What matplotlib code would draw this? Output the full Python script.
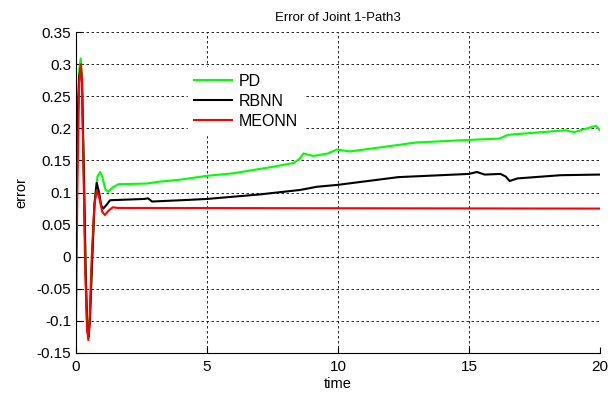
import numpy as np
import matplotlib
matplotlib.use("Agg")
import matplotlib.pyplot as plt

plt.rcParams['font.family'] = ['Liberation Sans', 'DejaVu Sans']

# readings (time, error)
t_pd = [0, 0.05, 0.12, 0.18, 0.23, 0.30, 0.37, 0.43, 0.48, 0.53, 0.62, 0.72, 0.82, 0.92,
        1.0, 1.12, 1.23, 1.4, 1.62, 2.7, 3.2, 3.97, 5.0, 6.0, 7.5, 8.3, 8.55, 8.68,
        9.06, 9.63, 9.95, 10.46, 13.0, 15.0, 16.15, 16.5, 18.7, 19.0, 19.85, 20.0]
e_pd = [0.08, 0.20, 0.29, 0.309, 0.28, 0.12, -0.02, -0.10, -0.115, -0.09, 0.0, 0.09, 0.125, 0.132,
        0.125, 0.105, 0.101, 0.108, 0.113, 0.114, 0.117, 0.12, 0.126, 0.13, 0.14, 0.146, 0.153, 0.161,
        0.157, 0.161, 0.167, 0.164, 0.178, 0.182, 0.184, 0.19, 0.197, 0.194, 0.204, 0.197]

t_rbnn = [0, 0.05, 0.12, 0.18, 0.23, 0.30, 0.37, 0.43, 0.48, 0.53, 0.62, 0.70, 0.79, 0.88,
          0.96, 1.04, 1.15, 1.3, 2.6, 2.75, 2.9, 4.0, 5.0, 7.0, 8.55, 9.2, 10.0, 12.3, 15.0,
          15.3, 15.6, 16.2, 16.4, 16.55, 16.85, 18.5, 20.0]
e_rbnn = [0.08, 0.20, 0.28, 0.295, 0.27, 0.13, -0.03, -0.115, -0.125, -0.10, 0.0, 0.08, 0.115, 0.10,
          0.08, 0.075, 0.08, 0.088, 0.09, 0.091, 0.086, 0.088, 0.09, 0.097, 0.104, 0.109, 0.112, 0.124, 0.129,
          0.132, 0.128, 0.129, 0.125, 0.118, 0.122, 0.127, 0.128]

t_meonn = [0, 0.05, 0.12, 0.18, 0.22, 0.28, 0.35, 0.42, 0.47, 0.52, 0.60, 0.70, 0.79, 0.90,
           1.0, 1.1, 1.25, 1.4, 1.6, 20.0]
e_meonn = [-0.10, 0.10, 0.27, 0.30, 0.28, 0.15, -0.02, -0.11, -0.13, -0.10, 0.0, 0.08, 0.104, 0.09,
           0.07, 0.065, 0.072, 0.077, 0.076, 0.075]

yticks = [-0.15, -0.1, -0.05, 0, 0.05, 0.1, 0.15, 0.2, 0.25, 0.3, 0.35]
ylabels = ['-0.15', '-0.1', '-0.05', '0', '0.05', '0.1', '0.15', '0.2', '0.25', '0.3', '0.35']
xticks = [0, 5, 10, 15, 20]

fig = plt.figure(figsize=(6.15, 3.96), dpi=100)
ax = fig.add_axes([0.1236, 0.1086, 0.852, 0.8104])

ax.plot(t_pd, e_pd, color='#00ff00', lw=1.5, label='PD')
ax.plot(t_rbnn, e_rbnn, color='k', lw=1.5, label='RBNN')
ax.plot(t_meonn, e_meonn, color='#ff0000', lw=1.5, label='MEONN')

ax.set_xlim(0, 20)
ax.set_ylim(-0.15, 0.35)
ax.set_xticks(xticks)
ax.set_yticks(yticks)
ax.set_yticklabels(ylabels)
ax.tick_params(direction='in', length=4, labelsize=11, width=0.8)
ax.tick_params(axis='x', pad=5)
ax.grid(True, color='k', linestyle=(0, (3, 3)), linewidth=0.6)
ax.set_axisbelow(True)
for s in ['top', 'right']:
    ax.spines[s].set_visible(False)

ax.set_title('Error of Joint 1-Path3', fontsize=9.5, pad=8)
ax.set_xlabel('time', fontsize=10.5, labelpad=2)
ax.set_ylabel('error', fontsize=10.5, labelpad=6)

leg = ax.legend(loc='upper left', bbox_to_anchor=(0.213, 0.89), fontsize=11.5,
                frameon=True, fancybox=False, handlelength=2.4, handletextpad=0.4,
                labelspacing=0.32, borderaxespad=0)
leg.get_frame().set_edgecolor('white')
leg.get_frame().set_facecolor('white')
leg.get_frame().set_alpha(1)

fig.savefig('out.png', dpi=100)
